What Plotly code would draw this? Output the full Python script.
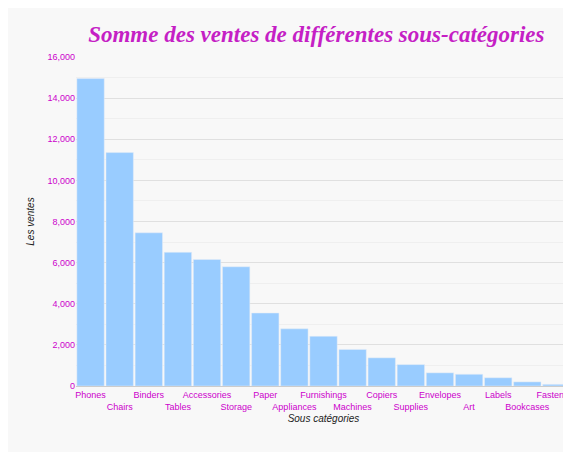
import plotly.graph_objects as go

categories = ["Phones", "Chairs", "Binders", "Tables", "Accessories", "Storage", "Paper",
              "Appliances", "Furnishings", "Machines", "Copiers", "Supplies", "Envelopes",
              "Art", "Labels", "Bookcases", "Fasteners"]
ventes = [14950, 11350, 7450, 6500, 6150, 5800, 3550, 2780, 2420, 1780, 1370, 1040,
          640, 570, 400, 200, 80]

# staggered tick labels
tick_labels = [c if i % 2 == 0 else "<br>" + c for i, c in enumerate(categories)]

fig = go.Figure(go.Bar(x=categories, y=ventes, name="Ventes",
                       marker_color="#99ccff", showlegend=True))

fig.update_layout(
    width=571, height=452,
    paper_bgcolor="#f8f8f8", plot_bgcolor="#f8f8f8",
    margin=dict(l=68, r=8, t=49, b=74, autoexpand=False),
    bargap=0.06,
    title=dict(text="Somme des ventes de différentes sous-catégories", x=0.54, y=0.96,
               xanchor="center",
               font=dict(family="Liberation Serif", size=23, color="#c51fc5",
                         weight="bold", style="italic")),
    font=dict(family="Arial, Liberation Sans", size=10, color="#cc00cc"),
    xaxis=dict(tickmode="array", tickvals=categories, ticktext=tick_labels,
               tickangle=0, automargin=False,
               title=dict(text="Sous catégories", standoff=4,
                          font=dict(color="#222", size=10, style="italic")),
               showline=True, linecolor="#ccc", tickfont=dict(size=9)),
    yaxis=dict(range=[0, 16000], dtick=2000, tickformat=",", gridcolor="#e0e0e0",
               minor=dict(dtick=1000, showgrid=True, gridcolor="#efefef"),
               zeroline=False, automargin=False, tickfont=dict(size=9),
               title=dict(text="Les ventes", standoff=10,
                          font=dict(color="#222", size=10, style="italic"))),
    legend=dict(orientation="h", x=0.5, xanchor="center", y=-0.19, yanchor="top",
                font=dict(color="#222", size=10)),
)

fig.write_html("out.html")
